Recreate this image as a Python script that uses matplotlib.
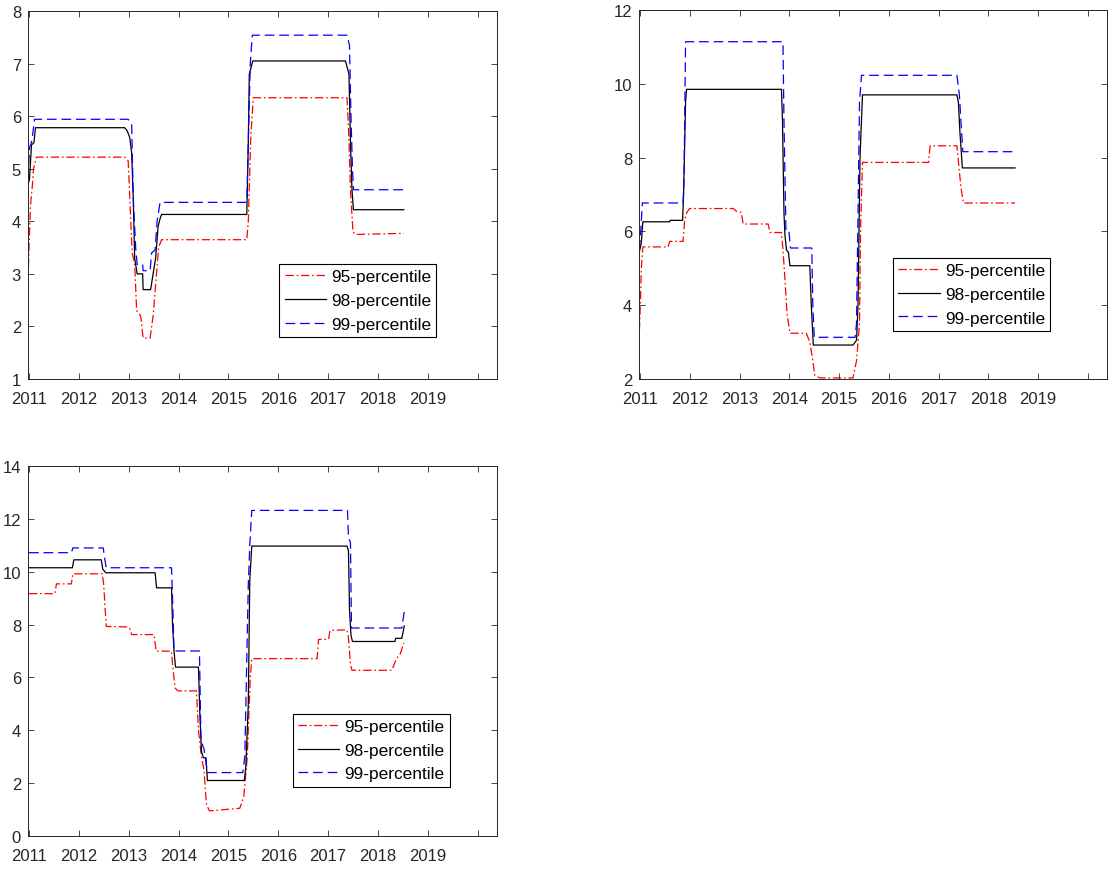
import matplotlib
matplotlib.use("Agg")
import matplotlib.pyplot as plt

plt.rcParams['font.family'] = ['Liberation Sans', 'DejaVu Sans']
plt.rcParams['lines.scale_dashes'] = False

# ---------------- data (years, values) ----------------
years = [2011, 2012, 2013, 2014, 2015, 2016, 2017, 2018, 2019, 2020]
year_labels = ['2011', '2012', '2013', '2014', '2015', '2016', '2017', '2018', '2019', '']
labels = ['95-percentile', '98-percentile', '99-percentile']

# Panel 1
p1_t95 = [2010.98, 2011.0, 2011.03, 2011.07, 2011.09, 2011.15, 2012.92, 2012.99, 2013.02, 2013.07, 2013.12,
          2013.16, 2013.24, 2013.29, 2013.43, 2013.49, 2013.55, 2013.60, 2013.66, 2015.37, 2015.40, 2015.45,
          2015.50, 2017.38, 2017.41, 2017.45, 2017.50, 2017.55, 2018.52]
p1_v95 = [2.84, 3.5, 4.3, 4.7, 5.0, 5.22, 5.22, 5.15, 4.5, 3.4, 3.2,
          2.3, 2.2, 1.78, 1.78, 2.2, 2.9, 3.5, 3.65, 3.65, 4.0, 5.6,
          6.35, 6.35, 5.8, 4.6, 3.8, 3.75, 3.77]
p1_t98 = [2010.98, 2011.01, 2011.05, 2011.10, 2011.13, 2012.92, 2012.97, 2013.02, 2013.06, 2013.09, 2013.12,
          2013.17, 2013.28, 2013.29, 2013.44, 2013.49, 2013.54, 2013.59, 2013.63, 2013.66, 2015.37, 2015.40,
          2015.42, 2015.49, 2017.35, 2017.42, 2017.45, 2017.48, 2017.51, 2018.52]
p1_v98 = [4.7, 4.8, 5.45, 5.5, 5.78, 5.78, 5.72, 5.6, 5.3, 4.5, 3.3,
          3.0, 3.0, 2.7, 2.7, 3.0, 3.3, 3.9, 4.05, 4.13, 4.13, 5.5,
          6.8, 7.05, 7.05, 6.8, 5.5, 4.6, 4.22, 4.22]
p1_t99 = [2010.98, 2011.01, 2011.05, 2011.08, 2011.11, 2012.99, 2013.06, 2013.09, 2013.14, 2013.17, 2013.28,
          2013.29, 2013.43, 2013.46, 2013.53, 2013.57, 2013.63, 2015.37, 2015.40, 2015.44, 2015.48, 2017.38,
          2017.43, 2017.46, 2017.49, 2017.51, 2018.52]
p1_v99 = [4.8, 5.4, 5.5, 5.7, 5.94, 5.94, 5.85, 4.5, 3.5, 3.18, 3.18,
          3.06, 3.06, 3.4, 3.45, 4.0, 4.36, 4.36, 5.5, 7.0, 7.54, 7.54,
          7.35, 6.0, 5.0, 4.60, 4.60]

# Panel 2
p2_t95 = [2010.97, 2011.0, 2011.02, 2011.05, 2011.56, 2011.59, 2011.86, 2011.89, 2011.93, 2011.99, 2012.87,
          2012.93, 2013.03, 2013.07, 2013.57, 2013.61, 2013.84, 2013.87, 2013.91, 2013.95, 2014.01, 2014.34,
          2014.41, 2014.47, 2014.51, 2014.61, 2015.28, 2015.35, 2015.41, 2015.43, 2015.47, 2016.80, 2016.83,
          2017.37, 2017.40, 2017.45, 2017.50, 2018.54]
p2_v95 = [2.9, 4.0, 5.0, 5.58, 5.58, 5.73, 5.73, 6.3, 6.5, 6.62, 6.62,
          6.55, 6.52, 6.2, 6.2, 5.97, 5.97, 5.5, 4.7, 3.8, 3.24, 3.24,
          3.0, 2.5, 2.1, 2.03, 2.03, 2.5, 3.5, 6.0, 7.87, 7.87, 8.32,
          8.32, 7.9, 7.2, 6.77, 6.77]
p2_t98 = [2010.97, 2011.02, 2011.05, 2011.59, 2011.60, 2011.85, 2011.87, 2011.91, 2011.93, 2013.84, 2013.86,
          2013.89, 2013.91, 2013.94, 2013.98, 2014.01, 2014.41, 2014.44, 2014.48, 2015.28, 2015.35, 2015.38,
          2015.42, 2015.47, 2017.37, 2017.40, 2017.43, 2017.48, 2018.54]
p2_v98 = [5.38, 5.7, 6.26, 6.26, 6.3, 6.3, 7.0, 9.5, 9.85, 9.85, 9.0,
          6.5, 5.9, 5.5, 5.43, 5.07, 5.07, 4.0, 2.92, 2.92, 3.05, 4.0,
          8.0, 9.70, 9.70, 9.5, 8.7, 7.72, 7.72]
p2_t99 = [2010.97, 2011.0, 2011.04, 2011.86, 2011.88, 2011.91, 2013.87, 2013.89, 2013.93, 2013.99, 2014.02,
          2014.45, 2014.47, 2014.50, 2015.32, 2015.35, 2015.41, 2015.45, 2017.37, 2017.42, 2017.45, 2017.49,
          2018.54]
p2_v99 = [5.5, 5.8, 6.77, 6.77, 7.5, 11.14, 11.14, 9.0, 6.0, 6.0, 5.55,
          5.55, 4.0, 3.13, 3.13, 3.5, 9.5, 10.23, 10.23, 9.7, 9.0, 8.16,
          8.16]

# Panel 3
p3_t95 = [2011.0, 2011.52, 2011.55, 2011.85, 2011.88, 2012.47, 2012.50, 2012.53, 2012.55, 2012.98, 2013.02,
          2013.06, 2013.51, 2013.55, 2013.86, 2013.88, 2013.93, 2013.99, 2014.36, 2014.40, 2014.46, 2014.51,
          2014.56, 2014.62, 2015.23, 2015.31, 2015.38, 2015.44, 2015.47, 2016.78, 2016.81, 2017.01, 2017.04,
          2017.38, 2017.41, 2017.45, 2017.48, 2018.28, 2018.37, 2018.45, 2018.52]
p3_v95 = [9.17, 9.17, 9.54, 9.54, 9.92, 9.92, 9.5, 8.5, 7.93, 7.91, 7.85,
          7.62, 7.62, 7.0, 6.99, 6.5, 5.6, 5.49, 5.49, 4.0, 3.0, 2.5,
          1.2, 0.95, 1.05, 1.5, 3.0, 6.0, 6.71, 6.71, 7.44, 7.44, 7.78,
          7.80, 7.5, 6.5, 6.27, 6.27, 6.7, 6.9, 7.3]
p3_t98 = [2011.0, 2011.87, 2011.90, 2012.45, 2012.48, 2012.54, 2013.53, 2013.56, 2013.86, 2013.88, 2013.91,
          2013.94, 2014.40, 2014.43, 2014.46, 2014.50, 2014.55, 2014.58, 2015.32, 2015.35, 2015.40, 2015.43,
          2015.47, 2017.38, 2017.41, 2017.43, 2017.46, 2017.49, 2018.34, 2018.36, 2018.48, 2018.53]
p3_v98 = [10.15, 10.15, 10.45, 10.45, 10.1, 9.96, 9.96, 9.39, 9.39, 8.0, 7.0,
          6.39, 6.39, 4.5, 3.2, 2.96, 2.96, 2.10, 2.10, 2.6, 5.0, 9.7,
          10.97, 10.97, 10.8, 8.6, 7.6, 7.36, 7.36, 7.48, 7.48, 7.95]
p3_t99 = [2011.0, 2011.85, 2011.88, 2012.49, 2012.51, 2012.55, 2013.86, 2013.88, 2013.91, 2014.42, 2014.45,
          2014.51, 2014.55, 2014.58, 2015.29, 2015.33, 2015.40, 2015.43, 2015.47, 2017.39, 2017.41, 2017.45,
          2017.47, 2018.48, 2018.53]
p3_v99 = [10.72, 10.72, 10.9, 10.9, 10.6, 10.15, 10.15, 9.0, 7.0, 7.0, 3.6,
          3.3, 2.8, 2.40, 2.40, 3.0, 9.5, 11.0, 12.32, 12.32, 11.3, 11.1,
          7.87, 7.87, 8.5]

panels = [
    dict(series=[(p1_t95, p1_v95), (p1_t98, p1_v98), (p1_t99, p1_v99)],
         xlim=(2010.98, 2020.39), ylim=(1, 8), yticks=[1, 2, 3, 4, 5, 6, 7, 8],
         rect=[28 / 1112, 1 - 380 / 870, 469 / 1112, 368 / 870], leg=(0.536, 0.3125)),
    dict(series=[(p2_t95, p2_v95), (p2_t98, p2_v98), (p2_t99, p2_v99)],
         xlim=(2010.973, 2020.39), ylim=(2, 12), yticks=[2, 4, 6, 8, 10, 12],
         rect=[639 / 1112, 1 - 380 / 870, 468 / 1112, 369 / 870], leg=(0.543, 0.328)),
    dict(series=[(p3_t95, p3_v95), (p3_t98, p3_v98), (p3_t99, p3_v99)],
         xlim=(2010.98, 2020.39), ylim=(0, 14), yticks=[0, 2, 4, 6, 8, 10, 12, 14],
         rect=[28 / 1112, 1 - 837 / 870, 469 / 1112, 370 / 870], leg=(0.565, 0.33)),
]

styles = [
    dict(color='#ff0000', lw=0.9, dashes=(6, 2, 1.2, 2)),
    dict(color='#000000', lw=0.9, dashes=None),
    dict(color='#0000ff', lw=0.9, dashes=(7, 3.5)),
]

fig = plt.figure(figsize=(11.12, 8.70), dpi=100)
axcol = '#262626'
for p in panels:
    ax = fig.add_axes(p['rect'])
    for (t, v), st, lab in zip(p['series'], styles, labels):
        line, = ax.plot(t, v, color=st['color'], lw=st['lw'], label=lab)
        if st['dashes'] is not None:
            line.set_dashes(st['dashes'])
    ax.set_xlim(*p['xlim'])
    ax.set_ylim(*p['ylim'])
    ax.set_xticks(years)
    ax.set_xticklabels(year_labels)
    ax.set_yticks(p['yticks'])
    ax.tick_params(direction='in', top=True, right=True, length=4, width=0.6,
                   colors=axcol, labelsize=12, pad=5)
    ax.tick_params(axis='x', pad=9)
    for s in ax.spines.values():
        s.set_color(axcol)
        s.set_linewidth(0.7)
    leg = ax.legend(loc='upper left', bbox_to_anchor=p['leg'], fontsize=12.4,
                    handlelength=2.4, handletextpad=0.3, borderpad=0.3,
                    labelspacing=0.5, borderaxespad=0, fancybox=False,
                    framealpha=1, edgecolor='#000000')
    leg.get_frame().set_linewidth(0.8)
    for txt in leg.get_texts():
        txt.set_color('#000000')

fig.savefig('out.png', dpi=100)
